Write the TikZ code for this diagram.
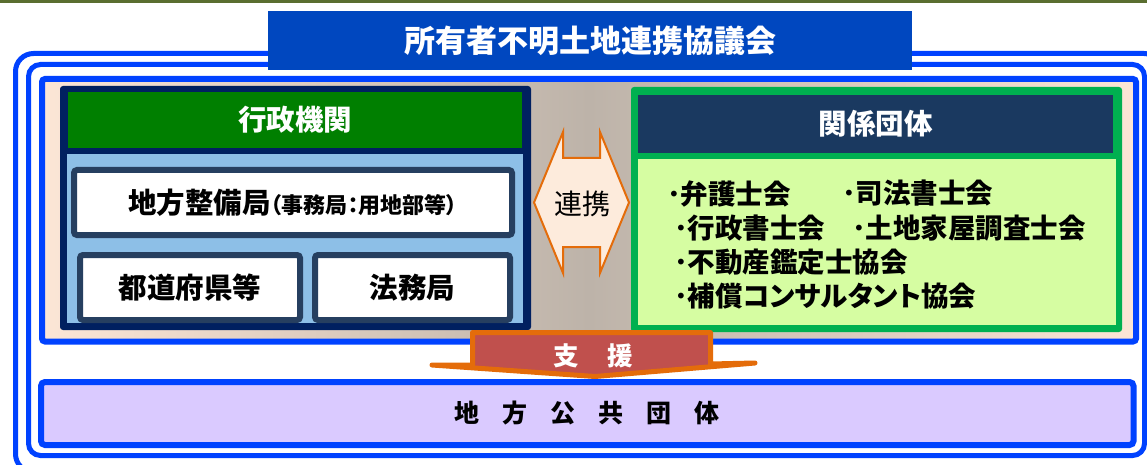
\documentclass[tikz,border=0pt]{standalone}
\usepackage{fontspec}
\newfontfamily\jp{Noto Sans CJK JP}
\newfontfamily\jpp{Noto Sans CJK JP}[RawFeature=+palt]
\definecolor{fblue}{HTML}{0042FF}
\definecolor{titleblue}{HTML}{0047BF}
\definecolor{navyc}{HTML}{002060}
\definecolor{greenc}{HTML}{007F00}
\definecolor{lightblue}{HTML}{8DBFE7}
\definecolor{slate}{HTML}{263F60}
\definecolor{greenb}{HTML}{00B050}
\definecolor{navyb}{HTML}{1A3960}
\definecolor{lightgreen}{HTML}{D6FDA2}
\definecolor{lavender}{HTML}{DACAFF}
\definecolor{redc}{HTML}{C0504D}
\definecolor{orangec}{HTML}{E46C0A}
\definecolor{peachc}{HTML}{FCE6D6}
\definecolor{grayc}{HTML}{BDB3A9}
\definecolor{renkeifill}{HTML}{FDEBDC}
\definecolor{olivec}{HTML}{5A6E30}
\tikzset{
  frame/.style={draw=fblue, line width=5pt},
  plainbox/.style={inner sep=0pt},
  bigtext/.style={font=\jp\bfseries\fontsize{28.5}{31}\selectfont},
  subbox/.style={draw=slate, line width=6pt, fill=white, rounded corners=3pt, inner sep=0pt, bigtext},
  item/.style={anchor=west, inner sep=0pt, font=\jpp\bfseries\fontsize{27.5}{30}\selectfont},
}
\begin{document}
\begin{tikzpicture}[x=1pt,y=-1pt]
\useasboundingbox (0,0) rectangle (1147,465);
\fill[white] (0,0) rectangle (1147,465);
\fill[olivec] (0,0) rectangle (1147,3);
% outer frames
\draw[frame, rounded corners=18pt] (15.5,53.5) rectangle (1162,472);
\draw[frame, rounded corners=12pt] (28.5,64.5) rectangle (1144.5,455.5);
% upper panel
\shade[left color=peachc, right color=peachc, middle color=grayc] (42,79) rectangle (1136,341.5);
\draw[frame, line width=6pt, rounded corners=3pt] (42,79) rectangle (1136,341.5);
% title
\node[plainbox, fill=titleblue, minimum width=644pt, minimum height=59pt, text=white,
      font=\jp\bfseries\fontsize{31}{34}\selectfont] (title) at (590,40.5) {所有者不明土地連携協議会};
% left group
\node[plainbox, fill=navyc, rounded corners=3pt, minimum width=471pt, minimum height=244pt] (gyosei) at (295.5,208) {};
\node[plainbox, fill=greenc, minimum width=454pt, minimum height=56pt, text=white, bigtext] (gyoseihead) at (295,120) {行政機関};
\node[plainbox, fill=lightblue, minimum width=456pt, minimum height=169pt] (gyoseibody) at (295,238.5) {};
\node[subbox, minimum width=438pt, minimum height=65pt] (seibi) at (293,202.5)
  {地方整備局{\jpp\fontsize{22}{24}\selectfont（事務局：用地部等）}};
\node[subbox, minimum width=220pt, minimum height=65pt] (todofuken) at (190,287.5) {都道府県等};
\node[subbox, minimum width=195pt, minimum height=65pt] (houmu) at (412.5,287.5) {法務局};
% right group
\node[plainbox, fill=greenb, rounded corners=3pt, minimum width=491pt, minimum height=245pt] (kankei) at (876.5,209.5) {};
\node[plainbox, fill=navyb, minimum width=475pt, minimum height=58pt, text=white, bigtext] (kankeihead) at (875.5,124) {関係団体};
\node[plainbox, fill=lightgreen, minimum width=478pt, minimum height=166pt] (kankeibody) at (877,242) {};
\node[item] (i1) at (667,193.5) {･弁護士会};
\node[item] (i2) at (842,193.5) {･司法書士会};
\node[item] (i3) at (674,228.5) {･行政書士会};
\node[item] (i4) at (852,228.5) {･土地家屋調査士会};
\node[item] (i5) at (674,262.5) {･不動産鑑定士協会};
\node[item] (i6) at (674,296) {･補償コンサルタント協会};
% renkei double arrow
\draw[fill=renkeifill, draw=orangec, line width=2pt, line join=miter]
  (563,132) -- (563,158) -- (600,158) -- (600,132) -- (629,202.5) -- (600,273) -- (600,247)
  -- (563,247) -- (563,273) -- (534,202.5) -- cycle;
\node[plainbox, font=\jp\fontsize{28}{30}\selectfont] (renkei) at (582,203.5) {連携};
% shien arrow
\filldraw[fill=redc, draw=orangec, line width=5pt, line join=round]
  (472.5,332.5) -- (710.5,332.5) -- (710.5,364) -- (755,363) -- (595,376.5) -- (432,365) -- (472.5,365) -- cycle;
\node[plainbox, text=white, font=\jp\bfseries\fontsize{25.5}{27}\selectfont] (shien) at (593,355.5) {支\hspace{29pt}援};
% local governments
\node[plainbox, draw=fblue, line width=6pt, fill=lavender, rounded corners=4pt, minimum width=1092.5pt, minimum height=63pt,
      font=\jp\bfseries\fontsize{25}{27}\selectfont] (chiho) at (587.25,413.5)
  {地\hspace{23pt}方\hspace{23pt}公\hspace{23pt}共\hspace{23pt}団\hspace{23pt}体};
\end{tikzpicture}
\end{document}
